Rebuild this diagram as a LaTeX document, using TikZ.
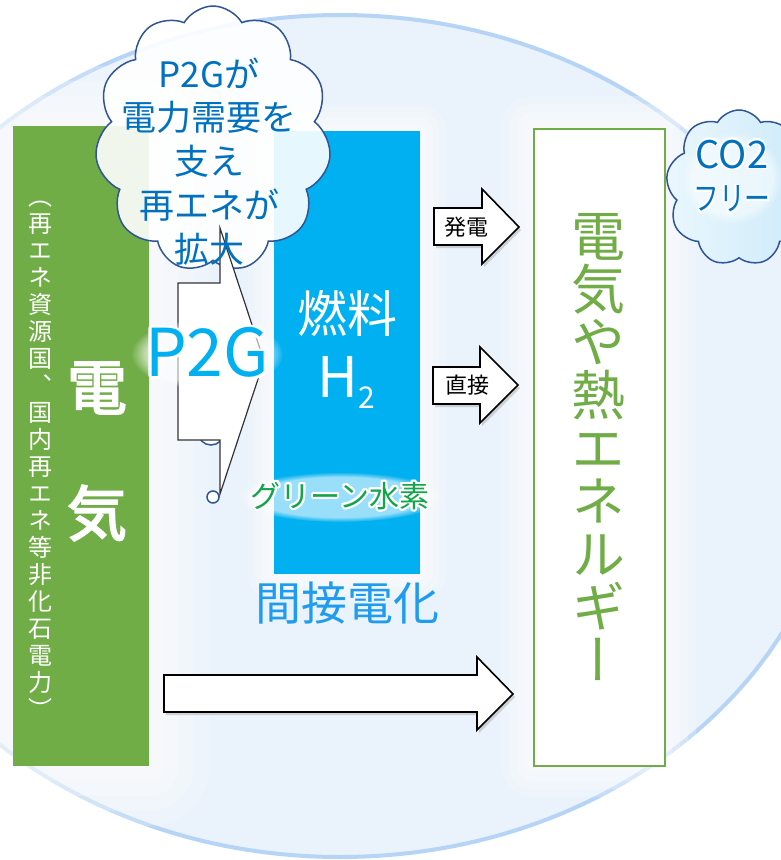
\documentclass[tikz,border=0pt]{standalone}
\usepackage{fontspec}
\setmainfont{Noto Sans CJK JP}
\newfontfamily\jpv[RawFeature=+vert]{Noto Sans CJK JP}
\newfontfamily\jpb[FakeBold=3]{Noto Sans CJK JP}
\usepackage{graphicx}
\usepackage{contour}
\contournumber{16}
\usetikzlibrary{shapes.symbols,shadows,fadings}
\definecolor{egreen}{HTML}{70AD47}
\definecolor{ecyan}{HTML}{00B0F0}
\definecolor{cblue}{HTML}{0070C0}
\definecolor{cline}{HTML}{2F5597}
\definecolor{bgin}{HTML}{EAF2FB}
\definecolor{ring}{HTML}{B6D4F6}
\definecolor{gh}{HTML}{12A54A}
\definecolor{indirect}{HTML}{1F9BF0}
\definecolor{cotop}{HTML}{EAF7FD}
\definecolor{cobot}{HTML}{CBEAFA}
\newcommand\vs{\rule[-0.12\baselineskip]{0pt}{\baselineskip}}
\newcommand\glowbox[5]{%
  \foreach \gk in {1,2,3,4}{%
    \pgfmathsetmacro\gsp{#5*(5-\gk)/4}%
    \fill[white,opacity=0.22,rounded corners=\gsp pt] (#1-\gsp,#2-\gsp) rectangle (#3+\gsp,#4+\gsp);}}
\begin{document}
\begin{tikzpicture}[x=1pt,y=-1pt,
  blockarrow/.style={draw=black,line width=1.6pt,fill=white,line join=miter,
    drop shadow={shadow xshift=2pt,shadow yshift=-3pt,opacity=0.3}},
  p2garrow/.style={draw=black!80,line width=1.2pt,fill=white,line join=miter},
  stack/.style={align=center,inner sep=0pt},
  bubble/.style={draw=cline,line width=1.5pt,fill=white},
  halo/.style={fill=white,opacity=0.6,path fading=circle with fuzzy edge 20 percent}]
\useasboundingbox (0,0) rectangle (781,860);
\fill[white] (0,0) rectangle (781,860);
\begin{scope}
\clip (0,0) rectangle (781,860);
\draw[ring,line width=4pt,fill=bgin] (340,436) ellipse [x radius=500pt,y radius=421pt];
\glowbox{13}{126}{149}{766}{60}
\glowbox{274}{131}{420}{574}{26}
\glowbox{533}{128}{664}{765}{32}
\end{scope}

% left green box
\node[fill=egreen,anchor=north west,minimum width=136pt,minimum height=640pt,inner sep=0pt] (elec) at (13,126) {};
\node[white,stack,font=\jpv\fontsize{24}{27}\selectfont] (elecsub) at (40,451.5)
 {\vs（\\\vs 再\\\vs エ\\\vs ネ\\\vs 資\\\vs 源\\\vs 国\\\vs 、\\\vs 国\\\vs 内\\\vs 再\\\vs エ\\\vs ネ\\\vs 等\\\vs 非\\\vs 化\\\vs 石\\\vs 電\\\vs 力\\\vs ）};
\node[white,font=\jpb\fontsize{60}{60}\selectfont,inner sep=0pt] (den) at (97,388) {電};
\node[white,font=\jpb\fontsize{60}{60}\selectfont,inner sep=0pt] (ki) at (97,513) {気};

% blue box
\node[fill=ecyan,anchor=north west,minimum width=146pt,minimum height=443pt,inner sep=0pt] (fuelbox) at (274,131) {};
\node[white,font=\fontsize{50}{50}\selectfont,inner sep=0pt] (fuel) at (347,313) {燃料};
\node[white,font=\fontsize{56}{56}\selectfont,anchor=base,inner sep=0pt] (h2) at (346,397)
 {H\raisebox{-11pt}{\fontsize{30}{30}\selectfont 2}};

% callout bubbles
\node[bubble,circle,minimum size=26pt,inner sep=0pt] (bub1) at (211,432) {};
\node[bubble,circle,minimum size=12pt,inner sep=0pt] (bub2) at (213,497) {};

% cloud
\node[cloud,cloud puffs=11,cloud puff arc=120,cloud ignores aspect,minimum width=236pt,minimum height=266pt,
  inner sep=0pt,draw=cline,line width=1.5pt,fill=white,fill opacity=0.9] (cloudA) at (213,139) {};

% P2G arrow
\draw[p2garrow] (178,283) -- (220,283) -- (220,228) -- (264,361) -- (220,494) -- (220,440) -- (178,440) -- cycle;
\fill[halo] (207,354) ellipse [x radius=76pt,y radius=36pt];
\node[ecyan,font=\fontsize{66}{66}\selectfont,inner sep=0pt] (p2g) at (207,354) {\contourlength{2.5pt}\contour{white}{P2G}};

\node[cblue,stack,font=\fontsize{35}{43.75}\selectfont] (cloudAtext) at (209,158)
 {\vs P2Gが\\\vs 電力需要を\\\vs 支え\\\vs 再エネが\\\vs 拡大};

\fill[halo] (340,497) ellipse [x radius=104pt,y radius=25pt];
\node[gh,font=\fontsize{30}{30}\selectfont,inner sep=0pt] (green) at (340,497) {\contourlength{2pt}\contour{white}{グリーン水素}};
\node[indirect,font=\fontsize{46}{46}\selectfont,inner sep=0pt] (indir) at (347,603) {間接電化};

% block arrows
\draw[blockarrow] (434,208) -- (482,208) -- (482,189) -- (519,227) -- (482,264) -- (482,245) -- (434,245) -- cycle;
\node[font=\fontsize{22}{22}\selectfont,inner sep=0pt] (hatsuden) at (466,227) {発電};
\draw[blockarrow] (433,367) -- (480,367) -- (480,347) -- (518,385) -- (480,423) -- (480,404) -- (433,404) -- cycle;
\node[font=\fontsize{22}{22}\selectfont,inner sep=0pt] (chokusetsu) at (467,385) {直接};
\draw[blockarrow] (164,675) -- (477,675) -- (477,657) -- (513,694) -- (477,730) -- (477,712) -- (164,712) -- cycle;

% right box
\node[draw=egreen,line width=1.5pt,fill=white,anchor=north west,minimum width=131pt,minimum height=637pt,inner sep=0pt] (energybox) at (533,128) {};
\node[egreen,stack,font=\jpv\fontsize{54}{53}\selectfont] (energy) at (598,448.5)
 {\vs 電\\\vs 気\\\vs や\\\vs 熱\\\vs エ\\\vs ネ\\\vs ル\\\vs ギ\\\vs ー};

% CO2 cloud
\begin{scope}
\clip (0,0) rectangle (781,860);
\node[cloud,cloud puffs=9,cloud puff arc=120,cloud ignores aspect,minimum width=146pt,minimum height=156pt,
  inner sep=0pt,draw=cline,line width=1.5pt,left color=cotop,right color=cobot] (co2c) at (739,188) {};
\fill[halo,opacity=0.5] (732,178) ellipse [x radius=50pt,y radius=46pt];
\node[cblue,font=\fontsize{38}{38}\selectfont,inner sep=0pt] (co2t) at (732,155) {\contourlength{1.8pt}\contour{white}{CO2}};
\node[cblue,font=\fontsize{33}{33}\selectfont,inner sep=0pt] (freet) at (732,200) {\contourlength{1.8pt}\contour{white}{\scalebox{0.78}[1]{フリー}}};
\end{scope}
\end{tikzpicture}
\end{document}
